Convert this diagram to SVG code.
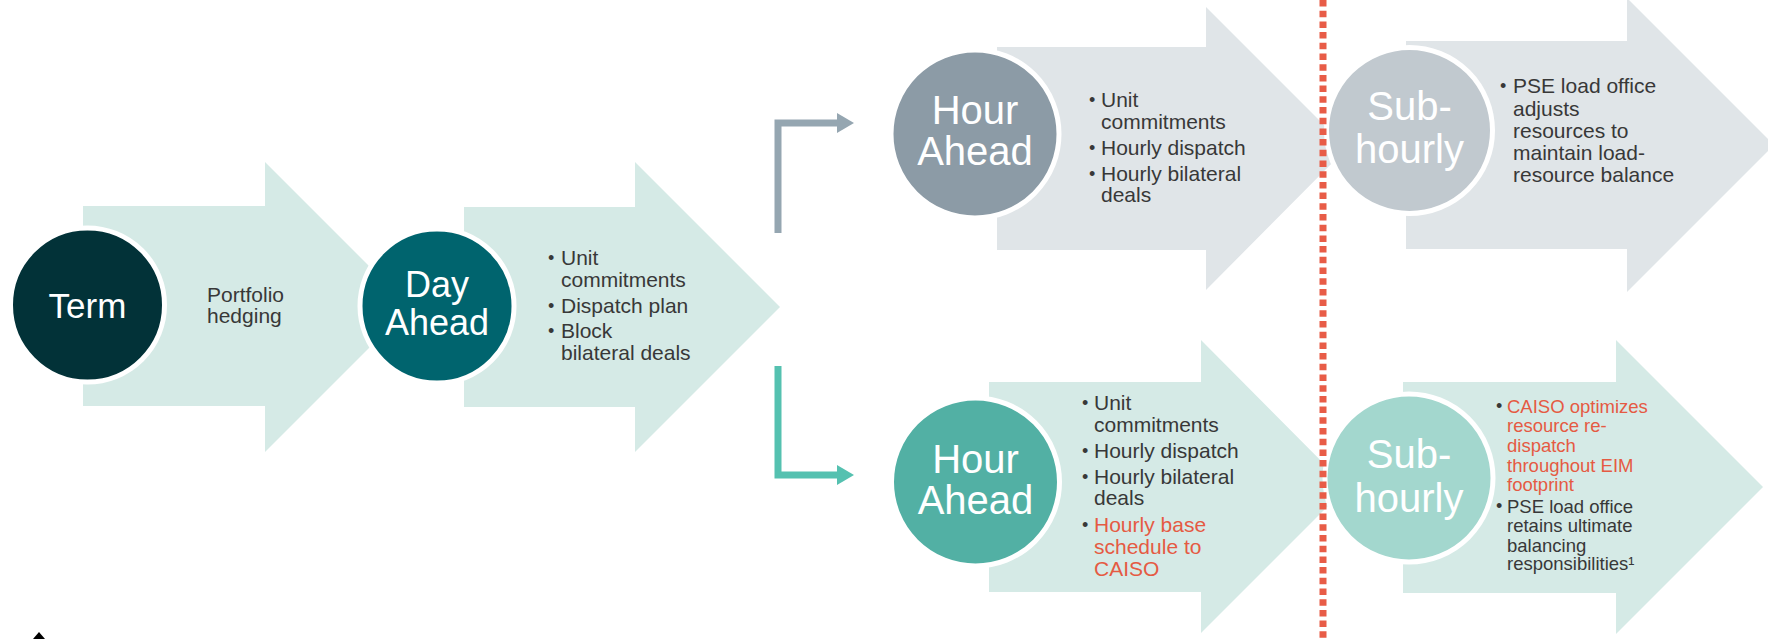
<svg xmlns="http://www.w3.org/2000/svg" width="1768" height="639" viewBox="0 0 1768 639">
<defs>
<style>
.bg{fill:#ffffff}
.arT{fill:#d5eae6}
.arG{fill:#e0e5e8}
.circ{stroke:#ffffff;stroke-width:5}
.lbl{font-family:"Liberation Sans",Arial,sans-serif;fill:#ffffff;text-anchor:middle}
.txt{font-family:"Liberation Sans",Arial,sans-serif;font-size:21px;fill:#383838}
.sm{font-size:18.5px}
.red{fill:#e55a43}
.bul{font-family:"Liberation Sans",Arial,sans-serif;font-size:18px;fill:#383838}
.conG{fill:none;stroke:#95a6b1;stroke-width:7}
.conT{fill:none;stroke:#55c1b0;stroke-width:7}
.dash{fill:none;stroke:#e85c47;stroke-width:7;stroke-dasharray:6.5 4.2}
</style>
<marker id="mG" markerUnits="userSpaceOnUse" markerWidth="18" markerHeight="20" refX="1" refY="10" orient="auto">
<polygon points="0,0 17,10 0,20" fill="#95a6b1"/>
</marker>
<marker id="mT" markerUnits="userSpaceOnUse" markerWidth="18" markerHeight="20" refX="1" refY="10" orient="auto">
<polygon points="0,0 17,10 0,20" fill="#55c1b0"/>
</marker>
</defs>
<rect class="bg" x="0" y="0" width="1768" height="639"/>

<g id="node-term">
<polygon class="arT" points="83,206 265,206 265,162 410,307 265,452 265,406 83,406"/>
<circle class="circ" cx="87.5" cy="305" r="77" fill="#023238"/>
<text class="lbl" x="87.5" y="318" font-size="35">Term</text>
<text class="txt" x="207" y="302">Portfolio</text>
<text class="txt" x="207" y="323">hedging</text>
</g>

<g id="node-day-ahead">
<polygon class="arT" points="464,207 635,207 635,162 780,307 635,452 635,407 464,407"/>
<circle class="circ" cx="437" cy="306" r="77" fill="#00646e"/>
<text class="lbl" x="437" y="297" font-size="36">Day</text>
<text class="lbl" x="437" y="335" font-size="36">Ahead</text>
<text class="bul" x="548" y="264">•</text>
<text class="txt" x="561" y="265">Unit</text>
<text class="txt" x="561" y="287">commitments</text>
<text class="bul" x="548" y="312">•</text>
<text class="txt" x="561" y="313">Dispatch plan</text>
<text class="bul" x="548" y="337">•</text>
<text class="txt" x="561" y="338">Block</text>
<text class="txt" x="561" y="360">bilateral deals</text>
</g>

<g id="node-hour-ahead-top">
<polygon class="arG" points="997,47 1206,47 1206,7 1347,148 1206,290 1206,250 997,250"/>
<circle class="circ" cx="975" cy="134" r="84" fill="#8c9ba6"/>
<text class="lbl" x="975" y="124" font-size="40">Hour</text>
<text class="lbl" x="975" y="165" font-size="40">Ahead</text>
<text class="bul" x="1089" y="106">•</text>
<text class="txt" x="1101" y="107">Unit</text>
<text class="txt" x="1101" y="129">commitments</text>
<text class="bul" x="1089" y="154">•</text>
<text class="txt" x="1101" y="155">Hourly dispatch</text>
<text class="bul" x="1089" y="180">•</text>
<text class="txt" x="1101" y="181">Hourly bilateral</text>
<text class="txt" x="1101" y="202">deals</text>
</g>

<g id="node-subhourly-top">
<polygon class="arG" points="1406,41 1627,41 1627,-2 1774,145 1627,292 1627,249 1406,249"/>
<circle class="circ" cx="1409.5" cy="130.5" r="83" fill="#c1c9cf"/>
<text class="lbl" x="1409.5" y="120" font-size="40">Sub-</text>
<text class="lbl" x="1409.5" y="163" font-size="40">hourly</text>
<text class="bul" x="1500" y="92">•</text>
<text class="txt" x="1513" y="93">PSE load office</text>
<text class="txt" x="1513" y="116">adjusts</text>
<text class="txt" x="1513" y="138">resources to</text>
<text class="txt" x="1513" y="160">maintain load-</text>
<text class="txt" x="1513" y="182">resource balance</text>
</g>

<g id="node-hour-ahead-bottom">
<polygon class="arT" points="989,382 1201,382 1201,340 1347,487 1201,633 1201,592 989,592"/>
<circle class="circ" cx="975.5" cy="482" r="84" fill="#52b0a4"/>
<text class="lbl" x="975.5" y="473" font-size="40">Hour</text>
<text class="lbl" x="975.5" y="514" font-size="40">Ahead</text>
<text class="bul" x="1082" y="409">•</text>
<text class="txt" x="1094" y="410">Unit</text>
<text class="txt" x="1094" y="432">commitments</text>
<text class="bul" x="1082" y="457">•</text>
<text class="txt" x="1094" y="458">Hourly dispatch</text>
<text class="bul" x="1082" y="483">•</text>
<text class="txt" x="1094" y="484">Hourly bilateral</text>
<text class="txt" x="1094" y="505">deals</text>
<text class="bul red" x="1082" y="531">•</text>
<text class="txt red" x="1094" y="532">Hourly base</text>
<text class="txt red" x="1094" y="554">schedule to</text>
<text class="txt red" x="1094" y="576">CAISO</text>
</g>

<g id="node-subhourly-bottom">
<polygon class="arT" points="1403,382 1616,382 1616,340 1763,487 1616,634 1616,593 1403,593"/>
<circle class="circ" cx="1409" cy="478" r="84" fill="#a3d7ce"/>
<text class="lbl" x="1409" y="468" font-size="40">Sub-</text>
<text class="lbl" x="1409" y="512" font-size="40">hourly</text>
<text class="bul red" x="1496" y="412">•</text>
<text class="txt sm red" x="1507" y="413">CAISO optimizes</text>
<text class="txt sm red" x="1507" y="432">resource re-</text>
<text class="txt sm red" x="1507" y="452">dispatch</text>
<text class="txt sm red" x="1507" y="472">throughout EIM</text>
<text class="txt sm red" x="1507" y="491">footprint</text>
<text class="bul" x="1496" y="512">•</text>
<text class="txt sm" x="1507" y="513">PSE load office</text>
<text class="txt sm" x="1507" y="532">retains ultimate</text>
<text class="txt sm" x="1507" y="552">balancing</text>
<text class="txt sm" x="1507" y="570">responsibilities¹</text>
</g>

<g id="connectors">
<path class="conG" d="M778,233 L778,123 L838,123" marker-end="url(#mG)"/>
<path class="conT" d="M778,366 L778,475 L838,475" marker-end="url(#mT)"/>
<line class="dash" x1="1323" y1="0" x2="1323" y2="639"/>
</g>

<polygon points="33,639 39,632 45,639" fill="#000000"/>
</svg>
